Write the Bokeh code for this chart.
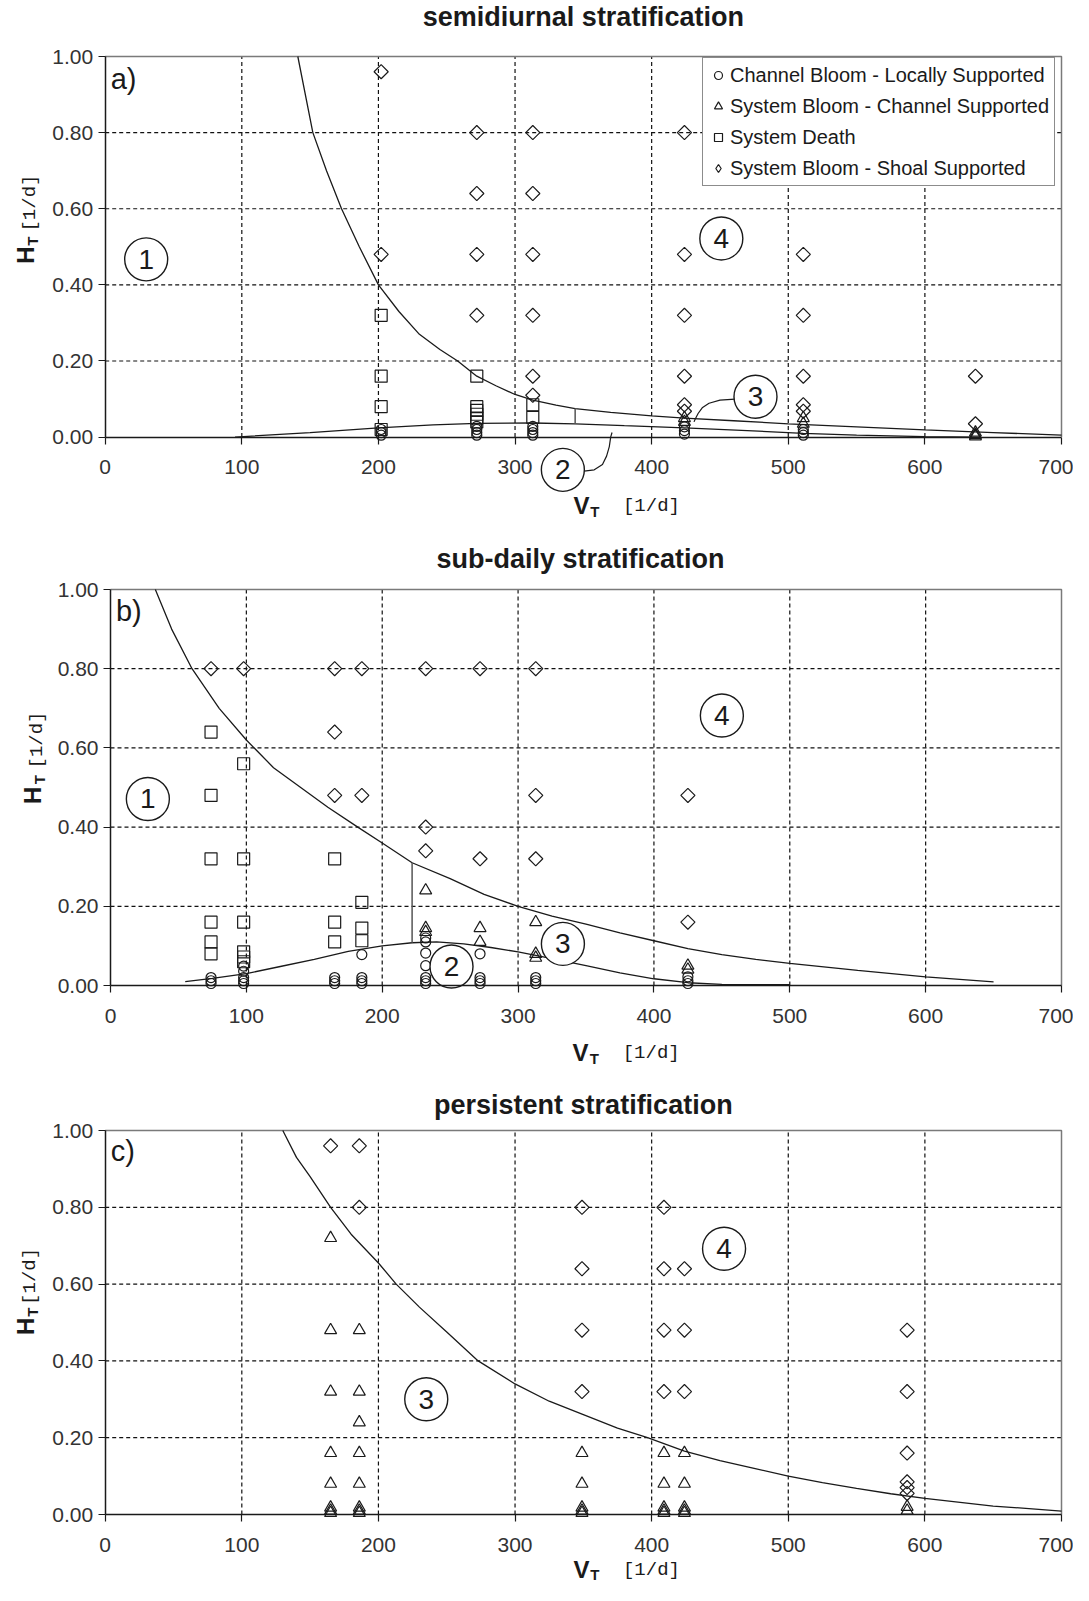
import numpy as np
from bokeh.plotting import figure
from bokeh.models import Range1d, FixedTicker, NumeralTickFormatter
from bokeh.layouts import column
from bokeh.embed import file_html
from bokeh.resources import INLINE
from bokeh.core.properties import value

X_TICKS = [0, 100, 200, 300, 400, 500, 600, 700]
Y_TICKS = [0.0, 0.2, 0.4, 0.6, 0.8, 1.0]

LEG_CIRCLE = "Channel Bloom - Locally Supported"
LEG_TRI = "System Bloom - Channel Supported"
LEG_SQ = "System Death"
LEG_DIA = "System Bloom - Shoal Supported"

# ---------------- panel a: semidiurnal stratification ----------------
a_circle_x = [202, 202, 202, 272, 272, 272, 272, 313, 313, 313, 313, 424, 424, 424, 511, 511, 511]
a_circle_y = [0.005, 0.012, 0.02, 0.005, 0.012, 0.02, 0.028, 0.005, 0.012, 0.02, 0.028, 0.008, 0.017, 0.027, 0.005, 0.012, 0.02]
a_tri_x = [424, 424, 511, 511, 637, 637, 637]
a_tri_y = [0.05, 0.04, 0.05, 0.035, 0.012, 0.006, 0.002]
a_sq_x = [202, 202, 202, 202, 272, 272, 272, 272, 272, 272, 313, 313]
a_sq_y = [0.32, 0.16, 0.08, 0.02, 0.16, 0.08, 0.07, 0.06, 0.05, 0.04, 0.085, 0.052]
a_dia_x = [202, 202, 272, 272, 272, 272, 313, 313, 313, 313, 313, 313,
           424, 424, 424, 424, 424, 424, 511, 511, 511, 511, 511, 637, 637]
a_dia_y = [0.96, 0.48, 0.80, 0.64, 0.48, 0.32, 0.80, 0.64, 0.48, 0.32, 0.16, 0.11,
           0.80, 0.48, 0.32, 0.16, 0.085, 0.068, 0.48, 0.32, 0.16, 0.085, 0.068, 0.16, 0.035]
a_upper_x = [141, 152, 162, 173, 186, 200, 215, 230, 245, 258, 272, 286, 300, 313, 330, 344,
             370, 400, 424, 460, 500, 550, 600, 650, 700]
a_upper_y = [1.0, 0.8, 0.7, 0.6, 0.5, 0.4, 0.33, 0.27, 0.23, 0.2, 0.16, 0.135, 0.112, 0.097, 0.084, 0.075,
             0.065, 0.056, 0.05, 0.043, 0.035, 0.027, 0.019, 0.012, 0.005]
a_mid_x = [95, 150, 200, 240, 272, 313, 344, 380, 424, 470, 511, 550, 600, 640]
a_mid_y = [0.0, 0.012, 0.024, 0.032, 0.036, 0.037, 0.035, 0.03, 0.024, 0.017, 0.01, 0.005, 0.001, 0.0]
a_seg_x = [344, 344]
a_seg_y = [0.035, 0.075]

# ---------------- panel b: sub-daily stratification ----------------
b_circle_x = [74, 74, 74, 98, 98, 98, 98, 98, 165, 165, 165, 185, 185, 185, 185,
              232, 232, 232, 232, 232, 232, 232, 272, 272, 272, 272, 313, 313, 313, 425, 425, 425]
b_circle_y = [0.005, 0.012, 0.02, 0.005, 0.012, 0.02, 0.036, 0.049, 0.005, 0.012, 0.02, 0.005, 0.012, 0.02, 0.078,
              0.005, 0.012, 0.02, 0.05, 0.082, 0.11, 0.12, 0.005, 0.012, 0.02, 0.08, 0.005, 0.012, 0.02, 0.005, 0.012, 0.022]
b_tri_x = [232, 232, 232, 272, 272, 313, 313, 313, 425, 425]
b_tri_y = [0.24, 0.145, 0.135, 0.145, 0.11, 0.16, 0.08, 0.07, 0.05, 0.04]
b_sq_x = [74, 74, 74, 74, 74, 74, 98, 98, 98, 98, 98, 98, 165, 165, 165, 185, 185, 185]
b_sq_y = [0.64, 0.48, 0.32, 0.16, 0.11, 0.08, 0.56, 0.32, 0.16, 0.085, 0.072, 0.06, 0.32, 0.16, 0.11, 0.21, 0.145, 0.113]
b_dia_x = [74, 98, 165, 165, 165, 185, 185, 232, 232, 232, 272, 272, 313, 313, 313, 425, 425]
b_dia_y = [0.80, 0.80, 0.80, 0.64, 0.48, 0.80, 0.48, 0.80, 0.40, 0.34, 0.80, 0.32, 0.80, 0.48, 0.32, 0.48, 0.16]
b_upper_x = [33, 45, 60, 80, 100, 120, 140, 160, 182, 200, 222, 250, 275, 300, 325, 350, 375,
             400, 425, 450, 475, 500, 550, 600, 650]
b_upper_y = [1.0, 0.9, 0.8, 0.7, 0.62, 0.55, 0.5, 0.45, 0.4, 0.36, 0.31, 0.27, 0.23, 0.2, 0.175, 0.155, 0.133,
             0.113, 0.093, 0.078, 0.066, 0.056, 0.038, 0.022, 0.009]
b_mid_x = [55, 75, 100, 125, 150, 175, 200, 222, 240, 260, 280, 300, 325, 350, 375, 400, 425, 450, 500]
b_mid_y = [0.01, 0.018, 0.03, 0.048, 0.066, 0.086, 0.1, 0.108, 0.11, 0.105, 0.096, 0.085, 0.068, 0.05,
           0.032, 0.017, 0.007, 0.003, 0.002]
b_seg_x = [222, 222]
b_seg_y = [0.108, 0.31]

# ---------------- panel c: persistent stratification ----------------
c_tri_x = [165, 165, 165, 165, 165, 165, 165, 165,
           186, 186, 186, 186, 186, 186, 186, 186,
           349, 349, 349, 349, 349, 409, 409, 409, 409, 409, 424, 424, 424, 424, 424, 587, 587]
c_tri_y = [0.72, 0.48, 0.32, 0.16, 0.08, 0.018, 0.01, 0.004,
           0.48, 0.32, 0.24, 0.16, 0.08, 0.018, 0.01, 0.004,
           0.16, 0.08, 0.018, 0.01, 0.004, 0.16, 0.08, 0.018, 0.01, 0.004, 0.16, 0.08, 0.018, 0.01, 0.004, 0.02, 0.01]
c_dia_x = [165, 186, 186, 349, 349, 349, 349, 409, 409, 409, 409, 424, 424, 424, 587, 587, 587, 587, 587, 587]
c_dia_y = [0.96, 0.96, 0.80, 0.80, 0.64, 0.48, 0.32, 0.80, 0.64, 0.48, 0.32, 0.64, 0.48, 0.32,
           0.48, 0.32, 0.16, 0.085, 0.07, 0.055]
c_curve_x = [130, 140, 150, 165, 180, 200, 213, 230, 250, 273, 300, 325, 350, 375, 397, 424,
             450, 475, 500, 525, 550, 575, 600, 650, 700]
c_curve_y = [1.0, 0.93, 0.88, 0.8, 0.73, 0.655, 0.6, 0.54, 0.475, 0.4, 0.34, 0.295, 0.26, 0.225, 0.2, 0.165,
             0.14, 0.12, 0.1, 0.083, 0.068, 0.054, 0.042, 0.022, 0.009]

INK = "#1a1a1a"
FONT = "Liberation Sans"
MONO = "Liberation Mono"
FIG_W = 1073


def make_panel(fig_h, fl, fr, ft, fb):
    """fl/fr/ft/fb: pixel position of the 0..700 x 0..1 plot box inside the figure."""
    sx = (fr - fl) / 700.0
    sy = (fb - ft) / 1.0
    p = figure(width=FIG_W, height=fig_h,
               x_range=Range1d(-fl / sx, 700 + (FIG_W - fr) / sx),
               y_range=Range1d(-(fig_h - fb) / sy, 1 + ft / sy),
               output_backend="svg", toolbar_location=None,
               background_fill_color="white", border_fill_color="white")
    p.min_border_left = p.min_border_right = p.min_border_top = p.min_border_bottom = 0
    p.outline_line_color = None
    p.xgrid.visible = False
    p.ygrid.visible = False
    xa, ya = p.xaxis[0], p.yaxis[0]
    xa.fixed_location = 0
    ya.fixed_location = 0
    xa.bounds = (0, 700)
    ya.bounds = (0, 1)
    xa.ticker = FixedTicker(ticks=X_TICKS)
    ya.ticker = FixedTicker(ticks=Y_TICKS)
    ya.formatter = NumeralTickFormatter(format="0.00")
    for ax in (xa, ya):
        ax.major_label_text_font = FONT
        ax.major_label_text_font_size = "21px"
        ax.major_label_text_color = "#333333"
        ax.major_tick_out = 7
        ax.major_tick_in = 0
        ax.minor_tick_line_color = None
        ax.axis_line_color = INK
        ax.axis_line_width = 1.5
        ax.major_tick_line_color = INK
        ax.major_tick_line_width = 1.2
    xa.major_label_standoff = 16
    ya.major_label_standoff = 5
    # dashed grid inside the 0..700 x 0..1 box
    gx = X_TICKS[1:-1]
    gy = Y_TICKS[1:-1]
    p.segment(x0=gx, y0=[Y_TICKS[0]] * len(gx), x1=gx, y1=[Y_TICKS[-1]] * len(gx),
              line_color="#111111", line_dash="4 3", line_width=1.2)
    p.segment(x0=[X_TICKS[0]] * len(gy), y0=gy, x1=[X_TICKS[-1]] * len(gy), y1=gy,
              line_color="#111111", line_dash="4 3", line_width=1.2)
    # grey box edges (top / right)
    p.line(x=[X_TICKS[0], X_TICKS[-1], X_TICKS[-1]], y=[Y_TICKS[-1], Y_TICKS[-1], Y_TICKS[0]],
           line_color="#7a7a7a", line_width=1.5)
    return p, sx, sy


def add_points(p, xs, ys, kind, legend=None):
    kw = dict(x=xs, y=ys, fill_color=None, line_color=INK, line_width=1.2)
    if kind == "circle":
        kw.update(marker="circle", size=10)
    elif kind == "triangle":
        kw.update(marker="triangle", size=12)
    elif kind == "square":
        kw.update(marker="square", size=12)
    else:
        kw.update(marker="square", size=10, angle=np.pi / 4)
    if legend:
        kw["legend_label"] = legend
    p.scatter(**kw)


def circled(p, xs, ys, txts):
    p.scatter(x=xs, y=ys, marker="circle", size=43, fill_color="white", line_color=INK, line_width=1.4)
    p.text(x=xs, y=ys, text=txts, text_align="center", text_baseline="middle",
           text_font=value(FONT), text_font_size="28px", text_color=INK)


def words(p, x, y, txt, size, font=FONT, style="normal", align="center", baseline="middle", angle=0.0):
    p.text(x=[x], y=[y], text=[txt], text_align=align, text_baseline=baseline, angle=angle,
           text_font=value(font), text_font_size=size, text_font_style=style, text_color=INK)


def decorate(p, sy, title, title_x, title_y, letter, letter_y, vx, vt, vu, vy, hx, tx, ux, hy, ty, uy, t_drop=6.0):
    words(p, title_x, title_y, title, "27px", style="bold")
    words(p, 4, letter_y, letter, "29px", align="left")
    # x axis title  V_T [1/d]
    words(p, vx, vy, "V", "24px", style="bold", align="left")
    words(p, vt, vy - t_drop / sy, "T", "15px", style="bold", align="left")
    words(p, vu, vy, "[1/d]", "19px", font=MONO, align="left")
    # y axis title  H_T [1/d]
    words(p, hx, hy, "H", "24px", style="bold", angle=np.pi / 2)
    words(p, tx, ty, "T", "15px", style="bold", angle=np.pi / 2)
    words(p, ux, uy, "[1/d]", "19px", font=MONO, angle=np.pi / 2)


# ---------- panel a ----------
pa, sxa, sya = make_panel(525, 104.7, 1061, 56, 436.6)
pa.line(a_upper_x, a_upper_y, line_color=INK, line_width=1.3)
pa.line(a_mid_x, a_mid_y, line_color=INK, line_width=1.3)
pa.line(a_seg_x, a_seg_y, line_color="#555555", line_width=1.5)
add_points(pa, a_circle_x, a_circle_y, "circle", LEG_CIRCLE)
add_points(pa, a_tri_x, a_tri_y, "triangle", LEG_TRI)
add_points(pa, a_sq_x, a_sq_y, "square", LEG_SQ)
add_points(pa, a_dia_x, a_dia_y, "diamond")
# legend swatch for the diamond series: legend markers are drawn unrotated, so the swatch
# comes from a diamond-marker renderer holding a single NaN (nothing is drawn in the plot)
pa.scatter(x=[np.nan], y=[np.nan], marker="diamond", size=13, fill_color=None,
           line_color=INK, line_width=1.2, legend_label=LEG_DIA)
pa.line([461, 450, 442, 437, 434, 432, 431], [0.10, 0.097, 0.089, 0.077, 0.062, 0.048, 0.04],
        line_color=INK, line_width=1.2)
pa.line([349, 358, 364, 367, 369, 370, 371], [-0.09, -0.086, -0.072, -0.05, -0.025, 0.0, 0.012],
        line_color=INK, line_width=1.2)
circled(pa, [30, 451, 476, 335], [0.467, 0.522, 0.106, -0.086], ["1", "4", "3", "2"])
decorate(pa, sya, "semidiurnal stratification", 350, 1.1025, "a)", 0.94,
         342.7, 355, 379, -0.18, -58.3, -53.2, -54.7, 0.478, 0.515, 0.615)
leg = pa.legend[0]
leg.location = (702, 339)
leg.border_line_color = INK
leg.border_line_width = 1.2
leg.background_fill_color = "white"
leg.background_fill_alpha = 1.0
leg.label_text_font = FONT
leg.label_text_font_size = "20px"
leg.label_text_color = INK
leg.glyph_width = 20
leg.glyph_height = 24
leg.label_height = 24
leg.spacing = 7
leg.padding = 5
leg.margin = 0
leg.label_standoff = 2

# ---------- panel b ----------
pb, sxb, syb = make_panel(542, 110, 1061, 64, 460)
pb.line(b_upper_x, b_upper_y, line_color=INK, line_width=1.3)
pb.line(b_mid_x, b_mid_y, line_color=INK, line_width=1.3)
pb.line(b_seg_x, b_seg_y, line_color="#555555", line_width=1.5)
add_points(pb, b_circle_x, b_circle_y, "circle")
add_points(pb, b_tri_x, b_tri_y, "triangle")
add_points(pb, b_sq_x, b_sq_y, "square")
add_points(pb, b_dia_x, b_dia_y, "diamond")
circled(pb, [27.5, 450, 333, 251], [0.471, 0.682, 0.105, 0.048], ["1", "4", "3", "2"])
decorate(pb, syb, "sub-daily stratification", 346, 1.077, "b)", 0.946,
         340, 352.7, 377, -0.17, -57.5, -52.3, -53.8, 0.48, 0.52, 0.62)

# ---------- panel c ----------
pc, sxc, syc = make_panel(518, 104.7, 1061, 63, 447)
pc.line(c_curve_x, c_curve_y, line_color=INK, line_width=1.3)
add_points(pc, c_tri_x, c_tri_y, "triangle")
add_points(pc, c_dia_x, c_dia_y, "diamond")
circled(pc, [235, 453], [0.3, 0.692], ["3", "4"])
decorate(pc, syc, "persistent stratification", 350, 1.066, "c)", 0.947,
         342.7, 355, 379, -0.144, -58.3, -53.2, -54.7, 0.49, 0.527, 0.62, t_drop=5.0)

layout = column(pa, pb, pc, spacing=0)
open("out.html", "w").write(file_html(layout, INLINE))
